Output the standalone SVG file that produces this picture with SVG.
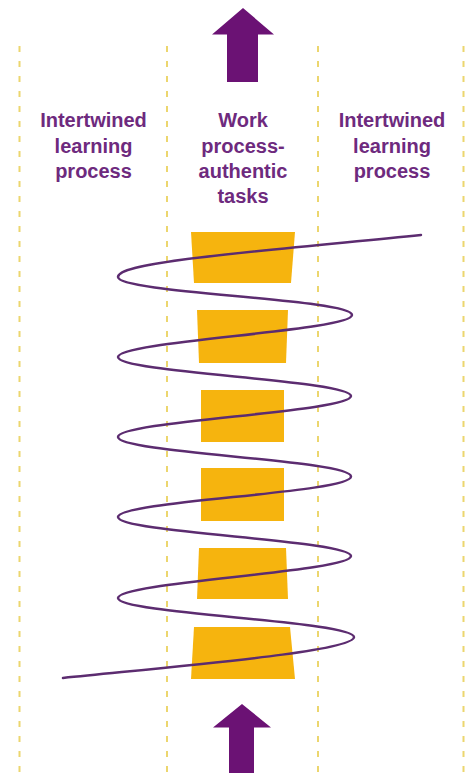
<svg xmlns="http://www.w3.org/2000/svg" width="466" height="778" viewBox="0 0 466 778">
  <style>
    .lane { stroke: #ecd66e; stroke-width: 2; stroke-dasharray: 6 9; fill: none; }
    .task { fill: #f6b40e; }
    .arrow { fill: #6b1274; }
    .label { font-family: "Liberation Sans", Arial, sans-serif; font-weight: bold; font-size: 20px; fill: #6e2a7e; text-anchor: middle; }
    .spiral { fill: none; stroke: #5c2c70; stroke-width: 2.5; stroke-linecap: round; }
  </style>
  <rect width="466" height="778" fill="#ffffff"/>

  <!-- column dividers -->
  <g id="lanes">
    <line class="lane" x1="19.5" y1="46" x2="19.5" y2="778"/>
    <line class="lane" x1="167" y1="46" x2="167" y2="778"/>
    <line class="lane" x1="318" y1="46" x2="318" y2="778"/>
    <line class="lane" x1="463.5" y1="46" x2="463.5" y2="778"/>
  </g>

  <!-- arrows -->
  <g id="arrow-top">
    <polygon class="arrow" points="243,8 274,34.5 258,34.5 258,82 227,82 227,34.5 212,34.5"/>
  </g>
  <g id="arrow-bottom">
    <polygon class="arrow" points="242,704 271,727.5 254,727.5 254,773 229,773 229,727.5 213,727.5"/>
  </g>

  <!-- column headings -->
  <g id="label-left">
    <text class="label" x="93.5" y="127">Intertwined</text>
    <text class="label" x="93.5" y="152.5">learning</text>
    <text class="label" x="93.5" y="177.5">process</text>
  </g>
  <g id="label-center">
    <text class="label" x="243" y="127">Work</text>
    <text class="label" x="243" y="152.5">process-</text>
    <text class="label" x="243" y="177.5">authentic</text>
    <text class="label" x="243" y="203">tasks</text>
  </g>
  <g id="label-right">
    <text class="label" x="392" y="127">Intertwined</text>
    <text class="label" x="392" y="152.5">learning</text>
    <text class="label" x="392" y="177.5">process</text>
  </g>

  <!-- task blocks -->
  <g id="task-1"><polygon class="task" points="191,232 295,232 291,283 194,283"/></g>
  <g id="task-2"><polygon class="task" points="197,310 288,310 286,363 199,363"/></g>
  <g id="task-3"><polygon class="task" points="201,390 284,390 284,442 201,442"/></g>
  <g id="task-4"><polygon class="task" points="201,468 284,468 284,521 201,521"/></g>
  <g id="task-5"><polygon class="task" points="199,548 286,548 288,599 197,599"/></g>
  <g id="task-6"><polygon class="task" points="194,627 290,627 295,679 191,679"/></g>

  <!-- learning spiral winding through the tasks -->
  <g id="connectors">
    <path class="spiral" d="M421,235
      C250,252 118,262 118,277
      C118,293 352,299 352,315
      C352,331 118,341 118,357
      C118,373 351,380 351,396
      C351,412 118,421 118,437
      C118,453 351,460 351,476.5
      C351,493 118,501 118,517
      C118,533 351,540 351,556
      C351,572 118,582 118,598
      C118,614 354,621 354,637
      C354,651 200,664 63,678"/>
  </g>
</svg>
